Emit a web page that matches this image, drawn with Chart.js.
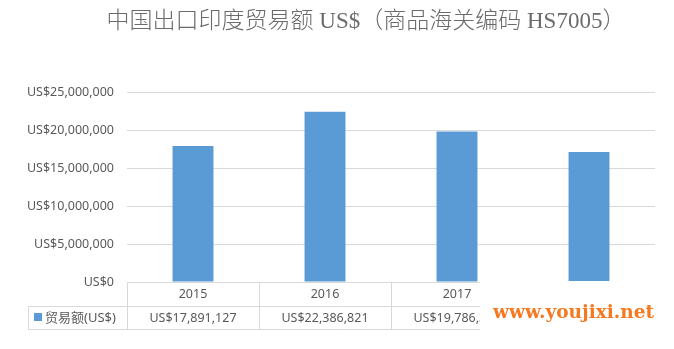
<!DOCTYPE html>
<html>
<head>
<meta charset="utf-8">
<script src="https://cdn.jsdelivr.net/npm/chart.js@4.4.1/dist/chart.umd.min.js"></script>
<style>
  html, body { margin: 0; background: #fff; }
  #wrap { width: 674px; height: 349px; position: relative; }
</style>
</head>
<body>
<div id="wrap"><canvas id="chart"></canvas></div>
<script>
const TITLE = "中国出口印度贸易额 US$（商品海关编码 HS7005）";
const SERIES_NAME = "贸易额(US$)";
const YEARS = ["2015", "2016", "2017", "2018"];
const VALUES = [17891127, 22386821, 19786300, 17100000];
const Y_MAX = 25000000;
const Y_STEP = 5000000;
const WATERMARK = "www.youjixi.net";

const TEXT_COLOR = "#595959";
const LINE_COLOR = "#d9d9d9";
const BAR_COLOR = "#5b9bd5";
const FONT = "'Noto Sans', 'Noto Sans CJK SC', sans-serif";

const money = v => "US$" + Math.round(v).toLocaleString("en-US");

// title, data table under the plot, and the site watermark
const extras = {
  id: "extras",
  afterDraw(c) {
    const ctx = c.ctx;
    const area = c.chartArea;
    const x = c.scales.x;
    const top = area.bottom, mid = top + 24, bot = top + 47;
    const legendLeft = 28;

    ctx.save();
    ctx.fillStyle = "#6b6b6b";
    ctx.font = "300 23px 'Liberation Serif', 'Noto Sans CJK SC', serif";
    ctx.textAlign = "center";
    ctx.textBaseline = "middle";
    ctx.fillText(TITLE, 366, 22);

    // borders
    ctx.strokeStyle = LINE_COLOR;
    ctx.lineWidth = 1;
    const edges = [area.left];
    for (let i = 0; i < YEARS.length - 1; i++) {
      edges.push(Math.round((x.getPixelForValue(i) + x.getPixelForValue(i + 1)) / 2));
    }
    edges.push(area.right);
    ctx.beginPath();
    ctx.moveTo(area.left, top + 0.5); ctx.lineTo(area.right, top + 0.5);
    ctx.moveTo(legendLeft, mid + 0.5); ctx.lineTo(area.right, mid + 0.5);
    ctx.moveTo(legendLeft, bot + 0.5); ctx.lineTo(area.right, bot + 0.5);
    ctx.moveTo(legendLeft + 0.5, mid); ctx.lineTo(legendLeft + 0.5, bot);
    edges.forEach(e => { ctx.moveTo(Math.round(e) + 0.5, top); ctx.lineTo(Math.round(e) + 0.5, bot); });
    ctx.stroke();

    // cells
    ctx.fillStyle = TEXT_COLOR;
    ctx.font = "12.5px " + FONT;
    YEARS.forEach((y, i) => {
      const cx = x.getPixelForValue(i);
      ctx.fillText(y, cx, top + 12);
      ctx.fillText(money(VALUES[i]), cx, mid + 12);
    });

    // legend key
    ctx.fillStyle = BAR_COLOR;
    ctx.fillRect(34, mid + 7, 8, 8);
    ctx.fillStyle = TEXT_COLOR;
    ctx.textAlign = "left";
    ctx.font = "13px " + FONT;
    ctx.fillText(SERIES_NAME, 45, mid + 12);

    // watermark box
    ctx.fillStyle = "#fff";
    ctx.fillRect(480, 281, 194, 68);
    ctx.fillStyle = "#f47920";
    ctx.font = "bold 18.5px 'DejaVu Serif', serif";
    ctx.textAlign = "center";
    ctx.fillText(WATERMARK, 573.5, 313);
    ctx.restore();
  }
};

new Chart(document.getElementById("chart"), {
  type: "bar",
  data: {
    labels: YEARS,
    datasets: [{
      label: SERIES_NAME,
      data: VALUES,
      backgroundColor: BAR_COLOR,
      categoryPercentage: 1,
      barPercentage: 0.31
    }]
  },
  options: {
    responsive: true,
    maintainAspectRatio: false,
    animation: false,
    layout: { padding: { left: 0, right: 19, top: 92, bottom: 67 } },
    scales: {
      x: { display: false },
      y: {
        min: 0,
        max: Y_MAX,
        afterFit: s => { s.width = 127; },
        ticks: {
          stepSize: Y_STEP,
          padding: 13,
          color: TEXT_COLOR,
          font: { family: FONT, size: 12.5 },
          callback: v => money(v)
        },
        grid: { color: LINE_COLOR, drawTicks: false },
        border: { display: false }
      }
    },
    plugins: {
      legend: { display: false },
      tooltip: { enabled: false }
    }
  },
  plugins: [extras]
});
</script>
</body>
</html>
